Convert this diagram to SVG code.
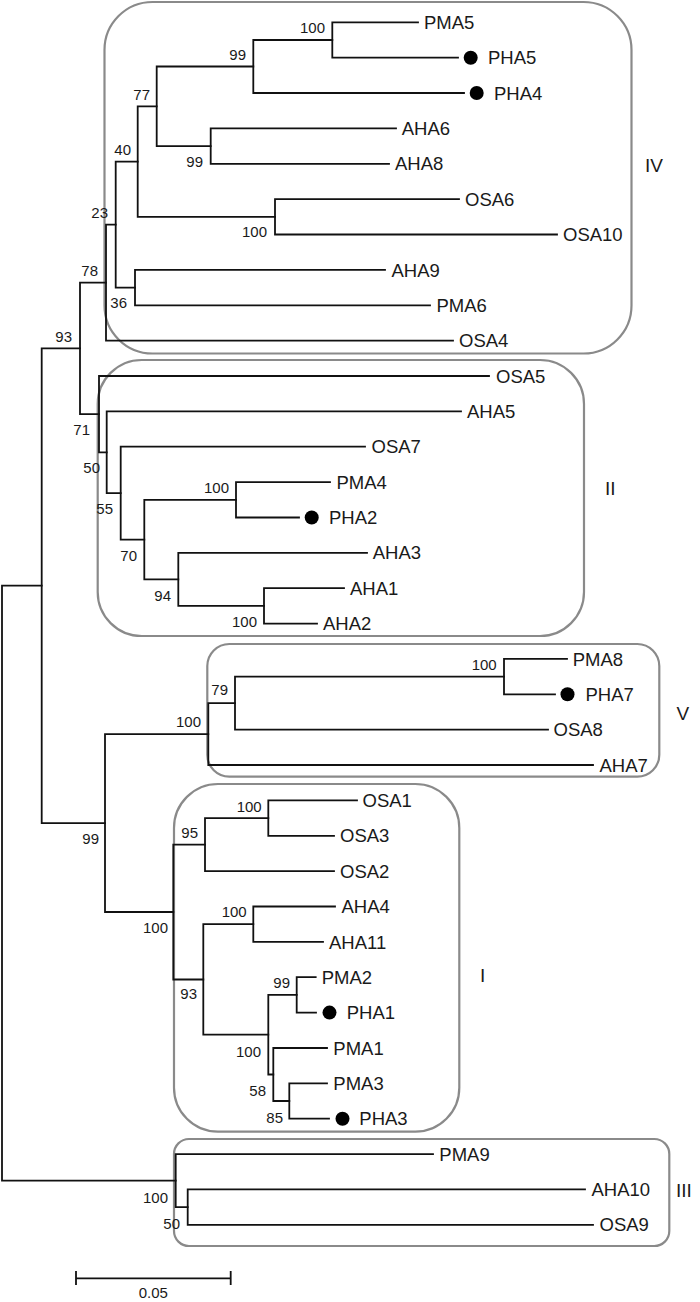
<svg xmlns="http://www.w3.org/2000/svg" width="700" height="1302" viewBox="0 0 700 1302">
<style>
.box{fill:none;stroke:#8a8a8a;stroke-width:2.2}
.br{fill:none;stroke:#111;stroke-width:1.8;stroke-linecap:square}
.lf{font-family:"Liberation Sans",Arial,sans-serif;font-size:18.5px;fill:#1a1a1a}
.bs{font-family:"Liberation Sans",Arial,sans-serif;font-size:15px;fill:#1a1a1a;text-anchor:end}
.cl{font-family:"Liberation Sans",Arial,sans-serif;font-size:19px;fill:#1a1a1a}
.dot{fill:#000}
</style>
<rect width="700" height="1302" fill="#fff"/>
<g id="clades">
<g id="clade-IV"><rect class="box" x="104.5" y="2" width="527" height="351.5" rx="48"/><text class="cl" x="645" y="171.7">IV</text></g>
<g id="clade-II"><rect class="box" x="97.7" y="360" width="486.3" height="276" rx="44"/><text class="cl" x="605" y="495">II</text></g>
<g id="clade-V"><rect class="box" x="207.3" y="644" width="452" height="132.7" rx="22"/><text class="cl" x="676.5" y="719.5">V</text></g>
<g id="clade-I"><rect class="box" x="174" y="784" width="285.3" height="347.7" rx="44"/><text class="cl" x="480" y="981.7">I</text></g>
<g id="clade-III"><rect class="box" x="174" y="1139" width="495.3" height="107" rx="15"/><text class="cl" x="676" y="1197">III</text></g>
</g>
<g id="connectors" class="br">
<path class="br" d="M332.3 22.3V57.7M332.3 22.3H418M332.3 57.7H458"/>
<path class="br" d="M253.3 40V93M253.3 40H332.3M253.3 93H464"/>
<path class="br" d="M210.7 128.4V163.8M210.7 128.4H396M210.7 163.8H389"/>
<path class="br" d="M156.7 66.5V146.1M156.7 66.5H253.3M156.7 146.1H210.7"/>
<path class="br" d="M275 199.2V234.5M275 199.2H459M275 234.5H557"/>
<path class="br" d="M137.7 106.3V216.9M137.7 106.3H156.7M137.7 216.9H275"/>
<path class="br" d="M135 269.9V305.3M135 269.9H385M135 305.3H430"/>
<path class="br" d="M115.7 161.6V287.6M115.7 161.6H137.7M115.7 287.6H135"/>
<path class="br" d="M106 224.6V340.6M106 224.6H115.7M106 340.6H453"/>
<path class="br" d="M264 588.2V623.6M264 588.2H344M264 623.6H317"/>
<path class="br" d="M178.3 552.8V605.9M178.3 552.8H367M178.3 605.9H264"/>
<path class="br" d="M236 482.1V517.5M236 482.1H330M236 517.5H299"/>
<path class="br" d="M144.3 499.8V579.4M144.3 499.8H236M144.3 579.4H178.3"/>
<path class="br" d="M120.7 446.7V539.6M120.7 446.7H365M120.7 539.6H144.3"/>
<path class="br" d="M106.7 411.4V493.2M106.7 411.4H461M106.7 493.2H120.7"/>
<path class="br" d="M99 376V452.3M99 376H489M99 452.3H106.7"/>
<path class="br" d="M80 282.6V414.2M80 282.6H106M80 414.2H99"/>
<path class="br" d="M504 658.9V694.3M504 658.9H567M504 694.3H555"/>
<path class="br" d="M235 676.6V729.7M235 676.6H504M235 729.7H548"/>
<path class="br" d="M208.3 703.2V765M208.3 703.2H235M208.3 765H593"/>
<path class="br" d="M268.3 800.4V835.8M268.3 800.4H357M268.3 835.8H334"/>
<path class="br" d="M205 818.1V871.1M205 818.1H268.3M205 871.1H334"/>
<path class="br" d="M253.3 906.5V941.9M253.3 906.5H335M253.3 941.9H323"/>
<path class="br" d="M296.7 977.2V1012.6M296.7 977.2H315.7M296.7 1012.6H316"/>
<path class="br" d="M289.3 1083.3V1118.7M289.3 1083.3H327M289.3 1118.7H329"/>
<path class="br" d="M273.3 1048V1101M273.3 1048H327M273.3 1101H289.3"/>
<path class="br" d="M268.3 994.9V1074.5M268.3 994.9H296.7M268.3 1074.5H273.3"/>
<path class="br" d="M203.3 924.2V1034.7M203.3 924.2H253.3M203.3 1034.7H268.3"/>
<path class="br" d="M173.3 844.6V979.5M173.3 844.6H205M173.3 979.5H203.3"/>
<path class="br" d="M105 734.1V912M105 734.1H208.3M105 912H173.3"/>
<path class="br" d="M41.7 348.4V823.1M41.7 348.4H80M41.7 823.1H105"/>
<path class="br" d="M187.7 1189.4V1224.8M187.7 1189.4H585M187.7 1224.8H593"/>
<path class="br" d="M175.7 1154.1V1207.1M175.7 1154.1H433M175.7 1207.1H187.7"/>
<path class="br" d="M2 585.7V1180.6M2 585.7H41.7M2 1180.6H175.7"/>
</g>
<g id="support">
<text class="bs" x="325" y="33.3">100</text>
<text class="bs" x="246" y="60">99</text>
<text class="bs" x="150" y="100">77</text>
<text class="bs" x="203" y="166.7">99</text>
<text class="bs" x="131" y="155">40</text>
<text class="bs" x="267" y="237">100</text>
<text class="bs" x="108" y="218">23</text>
<text class="bs" x="127" y="308">36</text>
<text class="bs" x="98" y="276">78</text>
<text class="bs" x="72" y="341.7">93</text>
<text class="bs" x="90" y="435">71</text>
<text class="bs" x="100" y="473">50</text>
<text class="bs" x="113" y="514">55</text>
<text class="bs" x="137" y="560.7">70</text>
<text class="bs" x="229" y="493.3">100</text>
<text class="bs" x="171" y="600.7">94</text>
<text class="bs" x="257" y="627.3">100</text>
<text class="bs" x="496.7" y="670">100</text>
<text class="bs" x="228" y="695">79</text>
<text class="bs" x="201" y="727.3">100</text>
<text class="bs" x="99" y="844">99</text>
<text class="bs" x="261.7" y="812.3">100</text>
<text class="bs" x="198" y="838.3">95</text>
<text class="bs" x="168" y="933.3">100</text>
<text class="bs" x="246.7" y="917.3">100</text>
<text class="bs" x="197" y="999.3">93</text>
<text class="bs" x="290" y="988.3">99</text>
<text class="bs" x="261" y="1056.7">100</text>
<text class="bs" x="266" y="1096">58</text>
<text class="bs" x="283" y="1122.7">85</text>
<text class="bs" x="168" y="1202.7">100</text>
<text class="bs" x="180" y="1229.3">50</text>
</g>
<g id="leaves">
<g id="leaf-PMA5"><text class="lf" x="424" y="28.9">PMA5</text></g>
<g id="leaf-PHA5"><circle class="dot" cx="470.7" cy="57.7" r="7"/><text class="lf" x="488" y="64.3">PHA5</text></g>
<g id="leaf-PHA4"><circle class="dot" cx="476.7" cy="93" r="7"/><text class="lf" x="494" y="99.6">PHA4</text></g>
<g id="leaf-AHA6"><text class="lf" x="401.7" y="135">AHA6</text></g>
<g id="leaf-AHA8"><text class="lf" x="395" y="170.4">AHA8</text></g>
<g id="leaf-OSA6"><text class="lf" x="465" y="205.8">OSA6</text></g>
<g id="leaf-OSA10"><text class="lf" x="563" y="241.1">OSA10</text></g>
<g id="leaf-AHA9"><text class="lf" x="391.5" y="276.5">AHA9</text></g>
<g id="leaf-PMA6"><text class="lf" x="436.5" y="311.9">PMA6</text></g>
<g id="leaf-OSA4"><text class="lf" x="459" y="347.2">OSA4</text></g>
<g id="leaf-OSA5"><text class="lf" x="496" y="382.6">OSA5</text></g>
<g id="leaf-AHA5"><text class="lf" x="467" y="418">AHA5</text></g>
<g id="leaf-OSA7"><text class="lf" x="371.5" y="453.3">OSA7</text></g>
<g id="leaf-PMA4"><text class="lf" x="336.5" y="488.7">PMA4</text></g>
<g id="leaf-PHA2"><circle class="dot" cx="311.7" cy="517.5" r="7"/><text class="lf" x="329" y="524.1">PHA2</text></g>
<g id="leaf-AHA3"><text class="lf" x="372.7" y="559.4">AHA3</text></g>
<g id="leaf-AHA1"><text class="lf" x="350" y="594.8">AHA1</text></g>
<g id="leaf-AHA2"><text class="lf" x="323" y="630.2">AHA2</text></g>
<g id="leaf-PMA8"><text class="lf" x="572.7" y="665.5">PMA8</text></g>
<g id="leaf-PHA7"><circle class="dot" cx="567.5" cy="694.3" r="7"/><text class="lf" x="585.5" y="700.9">PHA7</text></g>
<g id="leaf-OSA8"><text class="lf" x="553.5" y="736.3">OSA8</text></g>
<g id="leaf-AHA7"><text class="lf" x="599.5" y="771.6">AHA7</text></g>
<g id="leaf-OSA1"><text class="lf" x="362.5" y="807">OSA1</text></g>
<g id="leaf-OSA3"><text class="lf" x="340" y="842.4">OSA3</text></g>
<g id="leaf-OSA2"><text class="lf" x="340" y="877.7">OSA2</text></g>
<g id="leaf-AHA4"><text class="lf" x="341.5" y="913.1">AHA4</text></g>
<g id="leaf-AHA11"><text class="lf" x="329" y="948.5">AHA11</text></g>
<g id="leaf-PMA2"><text class="lf" x="321.7" y="983.8">PMA2</text></g>
<g id="leaf-PHA1"><circle class="dot" cx="329.5" cy="1012.6" r="7"/><text class="lf" x="346.7" y="1019.2">PHA1</text></g>
<g id="leaf-PMA1"><text class="lf" x="333.3" y="1054.6">PMA1</text></g>
<g id="leaf-PMA3"><text class="lf" x="333.3" y="1089.9">PMA3</text></g>
<g id="leaf-PHA3"><circle class="dot" cx="342.5" cy="1118.7" r="7"/><text class="lf" x="359.3" y="1125.3">PHA3</text></g>
<g id="leaf-PMA9"><text class="lf" x="439.3" y="1160.7">PMA9</text></g>
<g id="leaf-AHA10"><text class="lf" x="591.5" y="1196">AHA10</text></g>
<g id="leaf-OSA9"><text class="lf" x="599.5" y="1231.4">OSA9</text></g>
</g>
<g id="scale-bar">
<path class="br" d="M76 1278.3H230.7M76 1272V1284M230.7 1272V1284" stroke-linecap="butt"/>
<text class="bs" x="153.3" y="1298" style="text-anchor:middle">0.05</text>
</g>
</svg>
